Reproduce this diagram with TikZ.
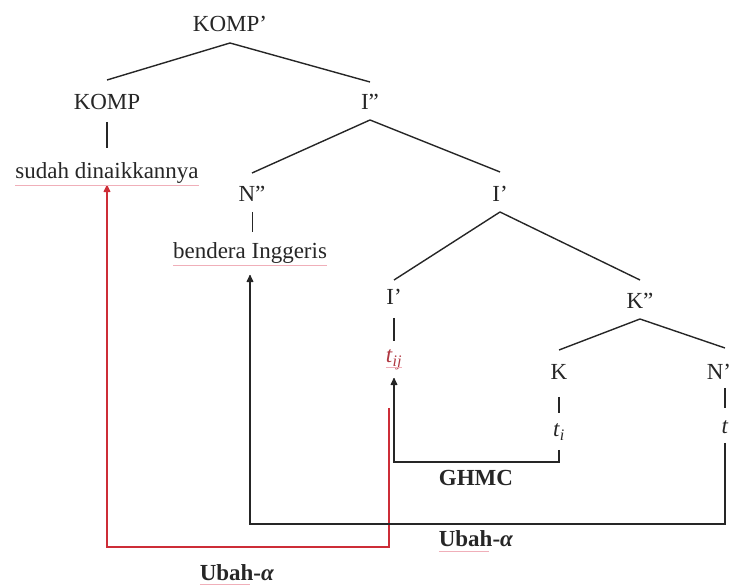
\documentclass[tikz,border=0pt]{standalone}
\usepackage{fontspec}
\setmainfont{Liberation Serif}
\usetikzlibrary{arrows.meta}
\definecolor{redline}{RGB}{205,45,55}
\definecolor{redtext}{RGB}{175,55,65}
\definecolor{squig}{RGB}{240,175,185}
\tikzset{
  lbl/.style={inner sep=0pt, outer sep=0pt, anchor=base, font=\fontsize{23}{27}\selectfont, text=black!85},
  bl/.style={inner sep=0pt, outer sep=0pt, anchor=base, font=\fontsize{23}{27}\selectfont\bfseries, text=black!85},
  branch/.style={line width=1.4pt, black!85},
  mover/.style={line width=1.4pt, black!85, -{Latex[length=9pt,width=8pt,round]}},
  redmover/.style={line width=1.4pt, redline, -{Latex[length=9pt,width=8pt,round]}},
  spell/.style={line width=0.8pt, squig}
}
\begin{document}
\begin{tikzpicture}[x=1pt,y=-1pt]
\useasboundingbox (0,0) rectangle (732,585);
% nodes (base points)
\node[lbl] (kompbar) at (230,32) {KOMP'};
\node[lbl] (komp) at (107,110) {KOMP};
\node[lbl] (ibar2) at (370,110) {I''};
\node[lbl] (sudah) at (107,179) {sudah dinaikkannya};
\node[lbl] (nbar2) at (252,202) {N''};
\node[lbl] (ibarA) at (500,202) {I'};
\node[lbl] (bendera) at (250,259) {bendera Inggeris};
\node[lbl] (ibarB) at (394,305) {I'};
\node[lbl] (kbar2) at (640,309) {K''};
\node[lbl, text=redtext] (tij) at (394,363) {\textit{t}\textsubscript{\textit{ij}}};
\node[lbl] (k) at (559,380) {K};
\node[lbl] (nprime) at (719,380) {N'};
\node[lbl] (ti) at (559,437) {\textit{t}\textsubscript{\textit{i}}};
\node[lbl] (tn) at (725,434) {\textit{t}};
\node[bl] (ghmc) at (476,486) {GHMC};
\node[bl] (ubahA) at (476,547) {Ubah-\textit{α}};
\node[bl] (ubahB) at (237,580) {Ubah-\textit{α}};
% tree branches
\draw[branch] ([yshift=-11pt]kompbar.base) -- ([yshift=30pt]komp.base);
\draw[branch] ([yshift=-11pt]kompbar.base) -- ([yshift=28pt]ibar2.base);
\draw[branch] ([yshift=-12pt]komp.base) -- ([yshift=31pt]sudah.base);
\draw[branch, line width=0.9pt] ([yshift=-10pt]nbar2.base) -- ([yshift=27pt]nbar2.base |- bendera.base);
\draw[branch] ([yshift=-10pt]ibar2.base) -- ([yshift=29pt]nbar2.base);
\draw[branch] ([yshift=-10pt]ibar2.base) -- ([yshift=30pt]ibarA.base);
\draw[branch] ([yshift=-10pt]ibarA.base) -- ([yshift=25pt]ibarB.base);
\draw[branch] ([yshift=-10pt]ibarA.base) -- ([yshift=29pt]kbar2.base);
\draw[branch] ([yshift=-13pt]ibarB.base) -- ([yshift=22pt]tij.base);
\draw[branch] ([yshift=-10pt]kbar2.base) -- ([yshift=30pt]k.base);
\draw[branch] ([yshift=-10pt]kbar2.base) -- ([yshift=32pt]tn.base |- nprime.base);
\draw[branch] ([yshift=-17pt]k.base) -- ([yshift=24pt]ti.base);
\draw[branch] ([yshift=-8pt]tn.base |- nprime.base) -- ([yshift=26pt]tn.base);
% movement connectors
\coordinate (rstart) at (389,408);
\draw[redmover] (rstart) -- ++(0,139) -| ([yshift=-6pt]sudah.base);
\draw[mover] ([yshift=-9pt]tn.base) -- ++(0,81) -| ([yshift=-16pt]bendera.base);
\draw[mover] ([yshift=-13pt]ti.base) -- ++(0,12) -| ([yshift=-15pt]tij.base);
% spell-check underlines
\draw[spell] ([yshift=-6pt]sudah.base west) -- ([yshift=-6pt]sudah.base east);
\draw[spell] ([yshift=-6pt]bendera.base west) -- ([yshift=-6pt]bendera.base east);
\draw[spell] ([yshift=-4pt]tij.base west) -- ([yshift=-4pt]tij.base east);
\draw[spell] ([yshift=-4pt]ubahA.base west) -- ([yshift=-4pt,xshift=50pt]ubahA.base west);
\draw[spell] ([yshift=-4pt]ubahB.base west) -- ([yshift=-4pt,xshift=50pt]ubahB.base west);
\end{tikzpicture}
\end{document}
